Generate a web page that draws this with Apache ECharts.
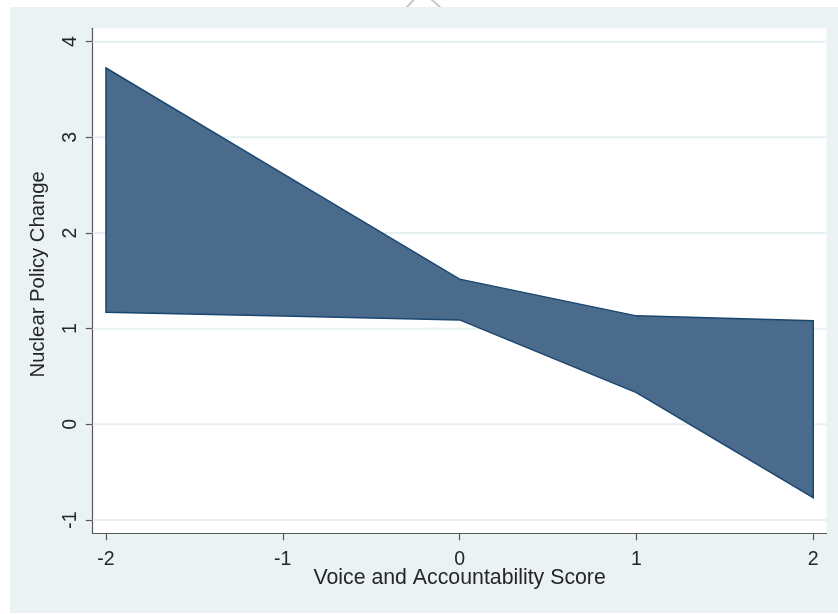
<!DOCTYPE html>
<html>
<head>
<meta charset="utf-8">
<script src="https://cdn.jsdelivr.net/npm/echarts@6/dist/echarts.min.js"></script>
<style>
  html, body { margin: 0; padding: 0; background: #ffffff; }
  #chart { width: 838px; height: 614px; }
</style>
</head>
<body>
<div id="chart"></div>
<script>
// Confidence band of predicted nuclear policy change by voice & accountability score
const scoreValues = [-2, -1, 0, 1, 2];
const upperBound  = [3.725, 2.62, 1.518, 1.134, 1.082];
const lowerBound  = [1.172, 1.132, 1.092, 0.332, -0.767];
const xTickValues = [-2, -1, 0, 1, 2];
const yTickValues = [-1, 0, 1, 2, 3, 4];

const X_MIN = -2.075, X_MAX = 2.075;
const Y_MIN = -1.139, Y_MAX = 4.14;

const FONT = '"Liberation Sans", Arial, Helvetica, sans-serif';
const TEXT = '#262626';
const AXIS = '#585858';

const chart = echarts.init(document.getElementById('chart'), null, { renderer: 'canvas' });

chart.setOption({
  backgroundColor: '#ffffff',
  animation: false,
  graphic: [
    {
      type: 'polyline',
      z: -20,
      silent: true,
      shape: { points: [[406, 8], [422, -9], [441, 8]] },
      style: { stroke: '#c9c9c9', lineWidth: 2, fill: null }
    },
    {
      type: 'rect',
      z: -10,
      silent: true,
      shape: { x: 10, y: 7, width: 828, height: 606 },
      style: { fill: '#eaf2f3' }
    }
  ],
  grid: {
    left: 92.7, right: 11.5, top: 28.3, bottom: 80.7,
    show: true, backgroundColor: '#ffffff', borderWidth: 0
  },
  xAxis: {
    type: 'value',
    min: X_MIN, max: X_MAX,
    name: 'Voice and Accountability Score',
    nameLocation: 'middle',
    nameGap: 34,
    nameMoveOverlap: false,
    nameTextStyle: { fontFamily: FONT, fontSize: 21.3, color: TEXT },
    axisLine: { show: true, onZero: false, lineStyle: { color: AXIS, width: 1.2 } },
    axisTick: { show: true, length: 7, customValues: xTickValues, lineStyle: { color: AXIS, width: 1.2 } },
    axisLabel: {
      customValues: xTickValues,
      margin: 16,
      fontFamily: FONT, fontSize: 19.5, color: TEXT,
      formatter: v => String(v)
    },
    splitLine: { show: false }
  },
  yAxis: {
    type: 'value',
    min: Y_MIN, max: Y_MAX,
    name: 'Nuclear Policy Change',
    nameLocation: 'middle',
    nameGap: 44,
    nameTextStyle: { fontFamily: FONT, fontSize: 20.3, color: TEXT, padding: [0, 0, 0, 13] },
    axisLine: { show: true, onZero: false, lineStyle: { color: AXIS, width: 1.2 } },
    axisTick: { show: true, length: 7, customValues: yTickValues, lineStyle: { color: AXIS, width: 1.2 } },
    axisLabel: {
      customValues: yTickValues,
      rotate: 90,
      margin: 12,
      fontFamily: FONT, fontSize: 19.5, color: TEXT,
      formatter: v => String(v)
    },
    splitLine: { show: false }
  },
  series: [
    {
      // horizontal reference lines at the labelled y ticks
      type: 'custom',
      name: 'gridlines',
      silent: true,
      z: 1,
      data: yTickValues.map(v => [X_MIN, v]),
      renderItem: function (params, api) {
        const y = api.value(1);
        const p0 = api.coord([X_MIN, y]);
        const p1 = api.coord([X_MAX, y]);
        return {
          type: 'line',
          shape: { x1: p0[0], y1: p0[1], x2: p1[0], y2: p1[1] },
          style: { stroke: '#e6eff1', lineWidth: 2 }
        };
      }
    },
    {
      // shaded band between the upper and lower bounds
      type: 'custom',
      name: 'band',
      silent: true,
      z: 2,
      data: [[scoreValues[0], upperBound[0]]],
      renderItem: function (params, api) {
        const pts = [];
        for (let i = 0; i < scoreValues.length; i++) {
          pts.push(api.coord([scoreValues[i], upperBound[i]]));
        }
        for (let i = scoreValues.length - 1; i >= 0; i--) {
          pts.push(api.coord([scoreValues[i], lowerBound[i]]));
        }
        return {
          type: 'polygon',
          shape: { points: pts },
          style: { fill: '#4a6b8b', stroke: '#1b4670', lineWidth: 1.5, lineJoin: 'miter' }
        };
      }
    }
  ]
});
</script>
</body>
</html>
